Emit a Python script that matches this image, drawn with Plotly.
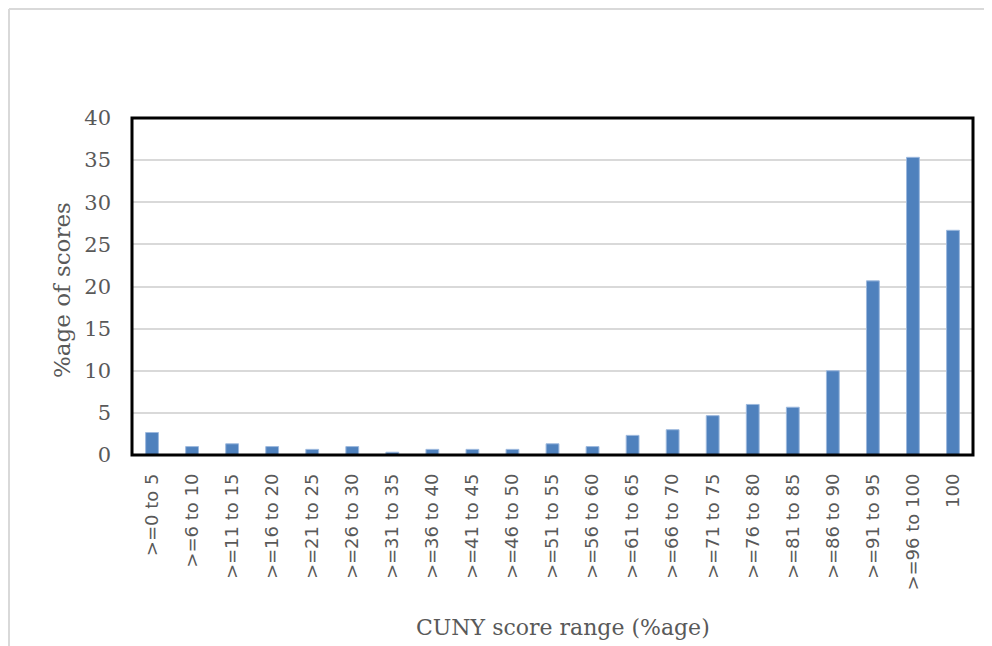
import plotly.graph_objects as go

categories = [">=0 to 5", ">=6 to 10", ">=11 to 15", ">=16 to 20", ">=21 to 25",
              ">=26 to 30", ">=31 to 35", ">=36 to 40", ">=41 to 45", ">=46 to 50",
              ">=51 to 55", ">=56 to 60", ">=61 to 65", ">=66 to 70", ">=71 to 75",
              ">=76 to 80", ">=81 to 85", ">=86 to 90", ">=91 to 95", ">=96 to 100", "100"]
values = [2.67, 1.0, 1.33, 1.0, 0.67, 1.0, 0.33, 0.67, 0.67, 0.67, 1.33, 1.0,
          2.33, 3.0, 4.67, 6.0, 5.67, 10.0, 20.67, 35.33, 26.67]
y_ticks = [0, 5, 10, 15, 20, 25, 30, 35, 40]

# page has an 8px body margin, so figure coordinates = page coordinates - 8
OFF = 8
W, H = 992 - OFF, 646 - OFF
L, R, T, B = 132 - OFF, 973 - OFF, 118 - OFF, 455 - OFF

fig = go.Figure()
fig.add_trace(go.Bar(
    x=categories, y=values,
    marker=dict(color="#4F81BD", line=dict(color="#9DB9DE", width=1)),
))

def px(x):
    return (x - OFF - L) / (R - L)

def py(y):
    return (B - (y - OFF)) / (B - T)

shapes = [
    # outer chart border (light gray)
    dict(type="line", xref="paper", yref="paper", x0=px(9), x1=px(9), y0=py(9), y1=py(660),
         line=dict(color="#D9D9D9", width=2)),
    dict(type="line", xref="paper", yref="paper", x0=px(9), x1=px(1000), y0=py(9), y1=py(9),
         line=dict(color="#D9D9D9", width=2)),
    # plot frame
    dict(type="rect", xref="paper", yref="paper", x0=0, x1=1, y0=0, y1=1,
         line=dict(color="black", width=3), layer="above"),
]

annotations = [
    dict(text="CUNY score range (%age)", xref="paper", yref="paper",
         x=px(563), y=py(627), showarrow=False, xanchor="center", yanchor="middle",
         font=dict(family="DejaVu Serif", size=22, color="#595959")),
    dict(text="%age of scores", xref="paper", yref="paper",
         x=px(62), y=py(290), showarrow=False, xanchor="center", yanchor="middle",
         textangle=-90, font=dict(family="DejaVu Serif", size=23, color="#595959")),
]

fig.update_layout(
    width=W, height=H,
    margin=dict(l=L, r=W - R, t=T, b=H - B, pad=0),
    paper_bgcolor="white", plot_bgcolor="white",
    showlegend=False,
    bargap=0.68,
    shapes=shapes,
    annotations=annotations,
    xaxis=dict(
        tickangle=-90,
        tickfont=dict(family="DejaVu Sans", size=18, color="#595959"),
        showgrid=False, showline=False, zeroline=False,
        ticks="", ticklabelstandoff=14,
    ),
    yaxis=dict(
        range=[0, 40], tickvals=y_ticks,
        tickfont=dict(family="DejaVu Serif", size=21, color="#595959"),
        showgrid=True, gridcolor="#D9D9D9", gridwidth=2,
        zeroline=False, showline=False, ticks="", ticklabelstandoff=20,
    ),
)

fig.write_html("out.html")
